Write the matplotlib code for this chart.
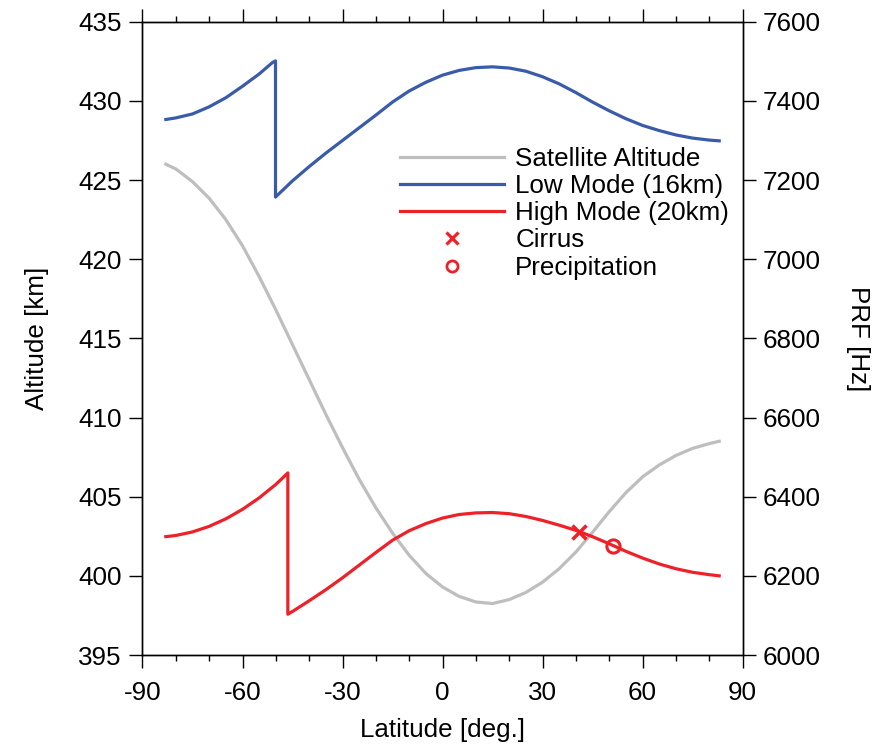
import matplotlib.pyplot as plt
from matplotlib.lines import Line2D
from matplotlib.ticker import MultipleLocator

plt.rcParams['font.family'] = ['Liberation Sans', 'DejaVu Sans']
plt.rcParams['font.size'] = 18.7
plt.rcParams['axes.unicode_minus'] = False

# satellite altitude (left axis, km)
lat_sat = [-83, -80, -75, -70, -65, -60, -55, -50, -45, -40, -35, -30, -25, -20, -15, -10, -5, 0,
           5, 10, 15, 20, 25, 30, 35, 40, 45, 50, 55, 60, 65, 70, 75, 80, 83]
alt_sat = [426.0, 425.7, 424.9, 423.85, 422.5, 420.85, 418.9, 416.8, 414.6, 412.4, 410.2, 408.1,
           406.1, 404.3, 402.7, 401.3, 400.15, 399.3, 398.7, 398.35, 398.25, 398.5, 398.95, 399.6,
           400.45, 401.5, 402.75, 404.05, 405.25, 406.25, 407.0, 407.6, 408.05, 408.35, 408.5]

# low mode (16km) PRF, right axis
lat_low = [-83, -80, -75, -70, -65, -60, -55, -51, -50.1, -50.1, -45, -40, -35, -30, -25, -20, -15,
           -10, -5, 0, 5, 10, 15, 20, 25, 30, 35, 40, 45, 50, 55, 60, 65, 70, 75, 80, 83]
prf_low = [7353, 7357, 7367, 7385, 7408, 7437, 7468, 7497, 7501, 7157, 7198, 7234, 7268, 7300, 7332,
           7364, 7397, 7425, 7447, 7465, 7477, 7484, 7486, 7483, 7475, 7461, 7443, 7421, 7397, 7375,
           7355, 7338, 7325, 7314, 7306, 7301, 7299]

# high mode (20km) PRF, right axis
lat_high = [-83, -80, -75, -70, -65, -60, -55, -50, -46.4, -46.4, -45, -40, -35, -30, -25, -20, -15,
            -10, -5, 0, 5, 10, 15, 20, 25, 30, 35, 40, 45, 50, 55, 60, 65, 70, 75, 80, 83]
prf_high = [6299, 6302, 6311, 6325, 6344, 6368, 6397, 6431, 6460, 6103, 6110, 6137, 6165, 6195, 6227,
            6259, 6290, 6314, 6332, 6346, 6355, 6359, 6360, 6357, 6350, 6340, 6328, 6315, 6299, 6281,
            6262, 6245, 6230, 6218, 6209, 6203, 6200]

cirrus_lat = [41.0]
cirrus_prf = [6312]
precip_lat = [51.0]
precip_prf = [6276]

c_gray = '#bebebe'
c_blue = '#3a5ba9'
c_red = '#ee2128'

fig = plt.figure(figsize=(8.78, 7.49), dpi=100)
ax = fig.add_axes([0.1623, 0.1255, 0.6834, 0.8455])
ax2 = ax.twinx()

ax.plot(lat_sat, alt_sat, color=c_gray, lw=2.3)
ax2.plot(lat_low, prf_low, color=c_blue, lw=2.3)
ax2.plot(lat_high, prf_high, color=c_red, lw=2.3)
ax2.plot(cirrus_lat, cirrus_prf, ls='none', marker='x', color=c_red, ms=10, mew=2.5)
ax2.plot(precip_lat, precip_prf, ls='none', marker='o', mfc='none', mec=c_red, ms=9.5, mew=2.2)

ax.set_xlim(-90, 90)
ax.set_ylim(395, 435)
ax2.set_ylim(6000, 7600)
ax.set_xticks(range(-90, 91, 30))
ax.xaxis.set_minor_locator(MultipleLocator(10))
ax.set_yticks(range(395, 436, 5))
ax2.set_yticks(range(6000, 7601, 200))

ax.tick_params(axis='x', which='both', direction='out', top=True, bottom=True)
ax.tick_params(axis='x', which='major', length=9.3, width=1, pad=9.5)
ax.tick_params(axis='x', which='minor', length=4.5, width=1)
ax.tick_params(axis='y', which='major', direction='out', length=9.3, width=1, pad=5.5)
ax2.tick_params(axis='y', which='major', direction='out', length=9.3, width=1, pad=5.5)
for a in (ax, ax2):
    for s in a.spines.values():
        s.set_linewidth(1.0)

ax.set_xlabel('Latitude [deg.]', va='center')
ax.xaxis.set_label_coords(0.5, -0.1184)
ax.set_ylabel('Altitude [km]', va='center')
ax.yaxis.set_label_coords(-0.1758, 0.5)
ax2.set_ylabel('PRF [Hz]', rotation=270, va='center')
ax2.yaxis.set_label_coords(1.1925, 0.5)

handles = [Line2D([], [], color=c_gray, lw=2.3),
           Line2D([], [], color=c_blue, lw=2.3),
           Line2D([], [], color=c_red, lw=2.3),
           Line2D([], [], ls='none', marker='x', color=c_red, ms=8, mew=2.3),
           Line2D([], [], ls='none', marker='o', mfc='none', mec=c_red, ms=8, mew=2.0)]
labels = ['Satellite Altitude', 'Low Mode (16km)', 'High Mode (20km)', 'Cirrus', 'Precipitation']
ax2.legend(handles, labels, loc='upper left', bbox_to_anchor=(0.4288, 0.8026), frameon=False,
           handlelength=4.0, handletextpad=0.45, labelspacing=0.124, borderpad=0,
           borderaxespad=0, numpoints=1)

plt.savefig('out.png', dpi=100)
